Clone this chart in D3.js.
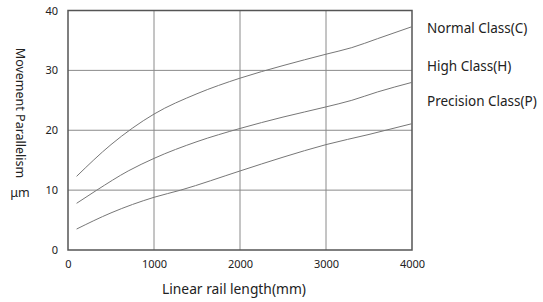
<!DOCTYPE html>
<html>
<head>
<meta charset="utf-8">
<script src="https://cdn.jsdelivr.net/npm/d3@7"></script>
<style>
  body { margin: 0; background: #fff; }
  text { font-family: "Noto Sans", sans-serif; fill: #222; }
</style>
</head>
<body>
<div id="chart"></div>
<script>
const xTicks = [0, 1000, 2000, 3000, 4000];
const yTicks = [0, 10, 20, 30, 40];

const normalClass = [[100, 12.3], [500, 17.6], [1000, 22.7], [1500, 26.1], [2000, 28.7], [2500, 30.8], [3000, 32.7], [3300, 33.8], [3600, 35.3], [4000, 37.3]];
const highClass = [[100, 7.8], [335, 10], [700, 13.2], [1000, 15.3], [1500, 18.1], [2000, 20.3], [2500, 22.2], [3000, 23.9], [3300, 25], [3600, 26.4], [4000, 28]];
const precisionClass = [[100, 3.5], [500, 6.2], [1000, 8.8], [1310, 10], [2000, 13.2], [2500, 15.5], [3000, 17.6], [3500, 19.3], [4000, 21.1]];

const seriesNames = ["Normal Class(C)", "High Class(H)", "Precision Class(P)"];
const legendY = [28, 66, 101];

const width = 543, height = 302;
const margin = { top: 10.5, right: 131, bottom: 52, left: 68 };

const svg = d3.select("#chart")
    .append("svg")
    .attr("width", width)
    .attr("height", height);

const x = d3.scaleLinear()
    .domain([0, 4000])
    .range([margin.left, width - margin.right]);

const y = d3.scaleLinear()
    .domain([0, 40])
    .range([height - margin.bottom, margin.top]);

// grid
svg.append("g")
    .selectAll("line")
    .data(xTicks.slice(1, -1))
    .enter()
    .append("line")
    .attr("x1", d => x(d)).attr("x2", d => x(d))
    .attr("y1", y(0)).attr("y2", y(40))
    .attr("stroke", "#8a8a8a")
    .attr("stroke-width", 1);

svg.append("g")
    .selectAll("line")
    .data(yTicks.slice(1, -1))
    .enter()
    .append("line")
    .attr("x1", x(0)).attr("x2", x(4000))
    .attr("y1", d => y(d)).attr("y2", d => y(d))
    .attr("stroke", "#8a8a8a")
    .attr("stroke-width", 1);

// frame
svg.append("rect")
    .attr("x", x(0))
    .attr("y", y(40))
    .attr("width", x(4000) - x(0))
    .attr("height", y(0) - y(40))
    .attr("fill", "none")
    .attr("stroke", "#555")
    .attr("stroke-width", 1.5);

// tick labels
const xAxis = d3.axisBottom(x).tickValues(xTicks).tickFormat(d3.format("d")).tickSize(0).tickPadding(10);
const gx = svg.append("g")
    .attr("transform", `translate(0,${y(0)})`)
    .call(xAxis);
gx.select(".domain").remove();
gx.selectAll("text").style("font-size", "11px").style("fill", "#222").style("font-family", "Noto Sans");

const yAxis = d3.axisLeft(y).tickValues(yTicks).tickSize(0).tickPadding(10);
const gy = svg.append("g")
    .attr("transform", `translate(${x(0)},0)`)
    .call(yAxis);
gy.select(".domain").remove();
gy.selectAll("text").style("font-size", "11px").style("fill", "#222").style("font-family", "Noto Sans");

// curves
const line = d3.line()
    .x(d => x(d[0]))
    .y(d => y(d[1]))
    .curve(d3.curveMonotoneX);

[normalClass, highClass, precisionClass].forEach(s => {
    svg.append("path")
        .datum(s)
        .attr("d", line)
        .attr("fill", "none")
        .attr("stroke", "#777")
        .attr("stroke-width", 1);
});

// legend texts
svg.selectAll(".legend")
    .data(seriesNames)
    .enter()
    .append("text")
    .attr("class", "legend")
    .attr("x", 427)
    .attr("y", (d, i) => legendY[i])
    .attr("dy", "0.35em")
    .style("font-size", "13.5px")
    .text(d => d);

// axis titles
svg.append("text")
    .attr("x", 234)
    .attr("y", 294)
    .attr("text-anchor", "middle")
    .style("font-size", "13.8px")
    .text("Linear rail length(mm)");

svg.append("text")
    .attr("transform", "translate(16,113) rotate(90)")
    .attr("text-anchor", "middle")
    .style("font-size", "12.5px")
    .text("Movement Parallelism");

svg.append("text")
    .attr("x", 20)
    .attr("y", 197)
    .attr("text-anchor", "middle")
    .style("font-size", "12.5px")
    .text("μm");
</script>
</body>
</html>
